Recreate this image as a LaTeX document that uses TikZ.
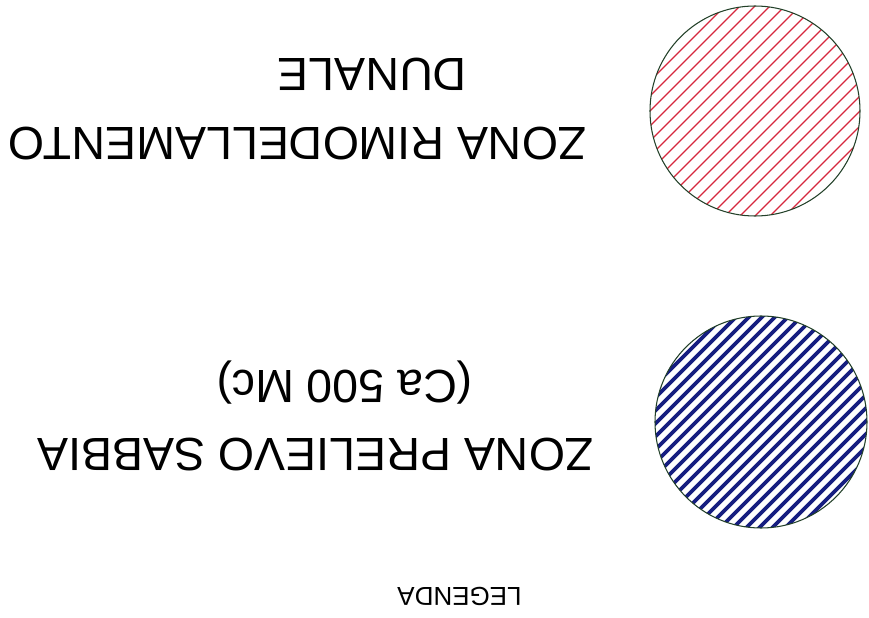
\documentclass[tikz,border=0pt]{standalone}
\usepackage{fontspec}
\setmainfont{Liberation Sans}
\definecolor{hatchred}{RGB}{214,40,62}
\definecolor{hatchblue}{RGB}{22,30,128}
\definecolor{rimgreen}{RGB}{34,64,40}
\usetikzlibrary{positioning}

\begin{document}
\begin{tikzpicture}[
      x=0.02cm, y=-0.02cm,
      label/.style={rotate=180, anchor=base west, inner sep=0pt,
                    font=\fontsize{26.5}{31}\selectfont},
      title/.style={rotate=180, anchor=base west, inner sep=0pt,
                    font=\fontsize{14.8}{17}\selectfont},
      rim/.style={draw=rimgreen, line width=0.6pt},
      redhatch/.style={hatchred, line width=0.7pt},
      bluehatch/.style={hatchblue, line width=2.2pt}
    ]
      \fill[white] (0,0) rectangle (869,618);
      \useasboundingbox (0,0) rectangle (869,618);

      % dune reshaping zone
      \coordinate (dune) at (755,111);
      \begin{scope}
        \clip (dune) circle[radius=105];
        \foreach \d in {-150,-135,...,150}
          \draw[redhatch] ([shift={(\d-120,120)}]dune) -- ([shift={(\d+120,-120)}]dune);
      \end{scope}
      \draw[rim] (dune) circle[radius=105];

      % sand extraction zone
      \coordinate (sand) at (761,422);
      \begin{scope}
        \clip (sand) circle[radius=106];
        \foreach \d in {-156,-143,...,156}
          \draw[bluehatch] ([shift={(\d-120,120)}]sand) -- ([shift={(\d+120,-120)}]sand);
      \end{scope}
      \draw[rim] (sand) circle[radius=106];

      \node[label] (rimo) at (587,128) {ZONA RIMODELLAMENTO};
      \node[label] (dunale) at (467,59) {DUNALE};
      \node[label] (prelievo) at (594,438) {ZONA PRELIEVO SABBIA};
      \node[label] (volume) at (473,370) {(Ca 500 Mc)};
      \node[title] (legenda) at (522,587) {LEGENDA};
    \end{tikzpicture}
\end{document}
